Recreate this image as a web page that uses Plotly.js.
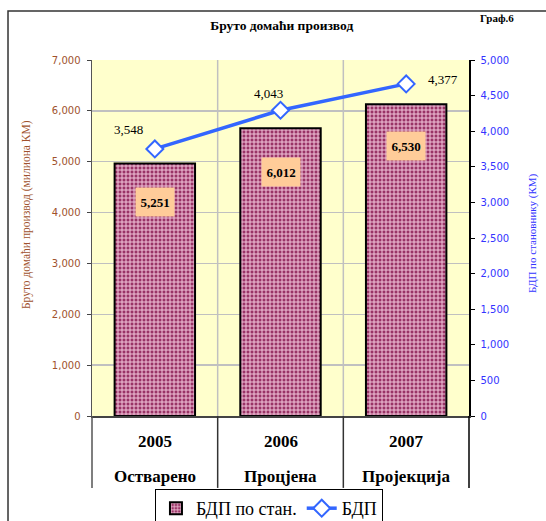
<!DOCTYPE html>
<html>
<head>
<meta charset="utf-8">
<script src="https://cdn.plot.ly/plotly-3.0.1.min.js"></script>
<style>html,body{margin:0;padding:0;background:#fff;}#chart{width:546px;height:521px;}</style>
</head>
<body>
<div id="chart"></div>
<script>
// ---- data ----
var years = ['2005', '2006', '2007'];
var stages = ['Остварено', 'Процјена', 'Пројекција'];
var perCapita = [3548, 4043, 4377];   // БДП по стан. (bars, right axis)
var gdp = [5251, 6012, 6530];         // БДП (line, left axis)
var barName = 'БДП по стан.';
var lineName = 'БДП';
var chartTitle = 'Бруто домаћи производ';
var chartTag = 'Граф.6';
var leftTitle = 'Бруто домаћи производ (милиона КМ)';
var rightTitle = 'БДП по становнику (КМ)';

function fmt(v) { return v.toLocaleString('en-US'); }

var serif = 'Liberation Serif, Times New Roman, serif';
var sans = 'DejaVu Sans, Verdana, sans-serif';
var leftColor = '#A0522D';
var rightColor = '#3333FF';

var traces = [
  {
    type: 'bar', x: years, y: perCapita, yaxis: 'y2', name: barName,
    width: 0.64,
    marker: {
      color: '#993366',
      line: {color: '#000000', width: 2},
      pattern: {shape: '+', bgcolor: '#993366', fgcolor: '#f2c4da', size: 4, solidity: 0.45}
    },
    hoverinfo: 'skip'
  },
  {
    type: 'scatter', mode: 'lines+markers', x: years, y: gdp, yaxis: 'y', name: lineName,
    line: {color: '#3366FF', width: 3.5},
    marker: {symbol: 'diamond', size: 13, color: '#ffffff', line: {color: '#3366FF', width: 2}},
    hoverinfo: 'skip'
  }
];

var annotations = [];
// bar labels (boxed)
var barShift = [-53, -62, -62];
years.forEach(function (yr, i) {
  annotations.push({
    x: i, y: gdp[i], xref: 'x', yref: 'y', yshift: barShift[i], xanchor: 'center', yanchor: 'middle',
    text: '<b>' + fmt(gdp[i]) + '</b>', showarrow: false,
    bgcolor: '#FFCC99', width: 36, height: 26,
    font: {family: serif, size: 13, color: '#000'}
  });
});
// line labels
var lxs = [-26, -12, 37], lys = [19, 17, 4];
years.forEach(function (yr, i) {
  annotations.push({
    x: i, y: gdp[i], xref: 'x', yref: 'y', xshift: lxs[i], yshift: lys[i], xanchor: 'center', yanchor: 'middle',
    text: fmt(perCapita[i]), showarrow: false,
    font: {family: serif, size: 13, color: '#000'}
  });
});
// category labels (two levels)
years.forEach(function (yr, i) {
  annotations.push({
    x: i, y: -0.073, xref: 'x', yref: 'paper', text: '<b>' + yr + '</b>', showarrow: false,
    xanchor: 'center', yanchor: 'middle',
    font: {family: serif, size: 17, color: '#000'}
  });
  annotations.push({
    x: i, y: -0.171, xref: 'x', yref: 'paper', text: '<b>' + stages[i] + '</b>', showarrow: false,
    xanchor: 'center', yanchor: 'middle',
    font: {family: serif, size: 17, color: '#000'}
  });
});
// tag and axis titles
annotations.push({
  x: 1.074, y: 1.118, xref: 'paper', yref: 'paper', text: '<b>' + chartTag + '</b>', showarrow: false,
  xanchor: 'center', yanchor: 'middle',
  font: {family: serif, size: 11, color: '#000'}
});
annotations.push({
  x: -0.172, y: 0.565, xref: 'paper', yref: 'paper', text: leftTitle, showarrow: false, textangle: -90,
  xanchor: 'center', yanchor: 'middle',
  font: {family: serif, size: 11.5, color: leftColor}
});
annotations.push({
  x: 1.167, y: 0.514, xref: 'paper', yref: 'paper', text: rightTitle, showarrow: false, textangle: -90,
  xanchor: 'center', yanchor: 'middle',
  font: {family: serif, size: 11, color: rightColor}
});

var shapes = [
  // outer frame
  {type: 'rect', xref: 'paper', yref: 'paper', x0: -0.2228, x1: 1.25, y0: -0.4, y1: 1.1376,
   line: {color: '#333', width: 1.5}, fillcolor: 'rgba(0,0,0,0)', layer: 'below'},
  // vertical gridlines at category boundaries
  {type: 'line', xref: 'x', yref: 'paper', x0: 0.5, x1: 0.5, y0: 0, y1: 1, line: {color: '#C0C0C0', width: 1.5}, layer: 'below'},
  {type: 'line', xref: 'x', yref: 'paper', x0: 1.5, x1: 1.5, y0: 0, y1: 1, line: {color: '#C0C0C0', width: 1.5}, layer: 'below'},
  // category table separators below axis
  {type: 'line', xref: 'paper', yref: 'paper', x0: 0, x1: 0, y0: -0.202, y1: 0, line: {color: '#555', width: 1.5}},
  {type: 'line', xref: 'x', yref: 'paper', x0: 0.5, x1: 0.5, y0: -0.202, y1: 0, line: {color: '#333', width: 1.5}},
  {type: 'line', xref: 'x', yref: 'paper', x0: 1.5, x1: 1.5, y0: -0.202, y1: 0, line: {color: '#333', width: 1.5}},
  {type: 'line', xref: 'paper', yref: 'paper', x0: 1, x1: 1, y0: -0.202, y1: 0, line: {color: '#000', width: 1.5}}
];

var layout = {
  width: 546, height: 521,
  margin: {l: 92, r: 77, t: 60, b: 105, autoexpand: false},
  paper_bgcolor: '#ffffff',
  plot_bgcolor: '#FFFFCC',
  showlegend: true,
  title: {text: '<b>' + chartTitle + '</b>', x: 0.516, xref: 'container', y: 0.952, yref: 'container',
          xanchor: 'center', yanchor: 'middle', font: {family: serif, size: 13.5, color: '#000'}},
  xaxis: {
    type: 'category', range: [-0.5, 2.5], showticklabels: false, ticks: '',
    showgrid: false, zeroline: false, showline: true, linecolor: '#444', linewidth: 1.5, fixedrange: true
  },
  yaxis: {
    range: [0, 7000], dtick: 1000, tickformat: ',d', ticks: 'outside', ticklen: 4, tickcolor: '#444',
    showline: true, linecolor: '#555', linewidth: 1.5, gridcolor: '#C0C0C0', gridwidth: 1.5,
    zeroline: false, tickfont: {family: sans, size: 10, color: leftColor}, ticklabelstandoff: 4
  },
  yaxis2: {
    range: [0, 5000], dtick: 500, tickformat: ',d', overlaying: 'y', side: 'right', ticks: 'outside', ticklen: 4,
    tickcolor: '#000', showline: true, linecolor: '#000', linewidth: 1.5, showgrid: false, zeroline: false,
    tickfont: {family: sans, size: 10, color: rightColor}, ticklabelstandoff: 4
  },
  legend: {
    orientation: 'h', x: 0.167, y: -0.205, xanchor: 'left', yanchor: 'top',
    bordercolor: '#000', borderwidth: 1, bgcolor: '#fff',
    font: {family: serif, size: 18, color: '#000'}, traceorder: 'normal'
  },
  annotations: annotations,
  shapes: shapes
};

Plotly.newPlot('chart', traces, layout, {staticPlot: true, displayModeBar: false});
</script>
</body>
</html>
